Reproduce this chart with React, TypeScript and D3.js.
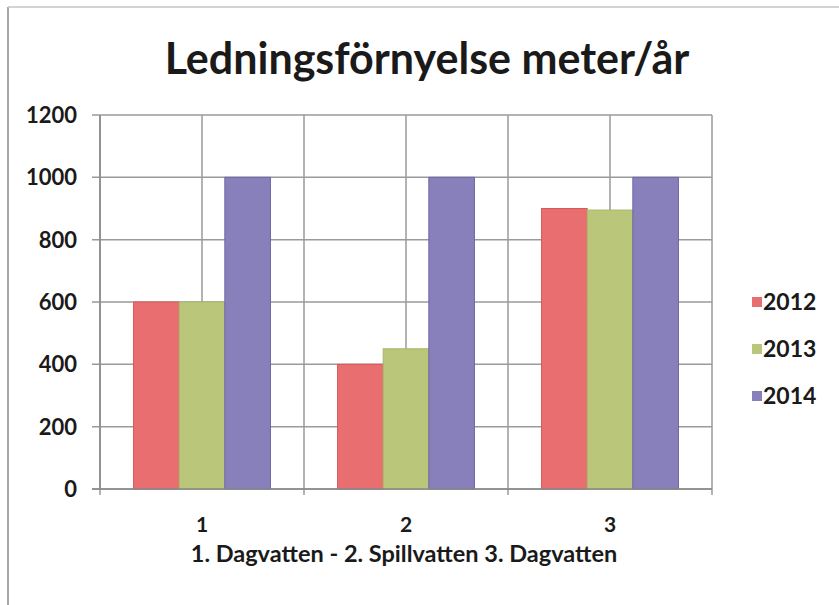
import React from "react";
import * as d3 from "d3";

// Ledningsförnyelse meter/år, grouped bars per category

const categories = ["1", "2", "3"];
const seriesNames = ["2012", "2013", "2014"];
const values2012 = [600, 400, 900];
const values2013 = [600, 450, 895];
const values2014 = [1000, 1000, 1000];
const yTicks = [0, 200, 400, 600, 800, 1000, 1200];

const colors = ["#E96E70", "#BAC67A", "#8880BB"];
const strokes = ["#D9585C", "#A9B667", "#6F68A6"];

const size = { width: 839, height: 605 };
const plot = { left: 100, right: 712, top: 115, bottom: 489 };
const font = "Lato, 'Open Sans', sans-serif";

function App() {
  const seriesValues = [values2012, values2013, values2014];

  const x = d3.scaleBand().domain(categories).range([plot.left, plot.right]).padding(0);
  const inner = d3.scaleBand().domain(seriesNames).range([0, x.bandwidth()]).paddingInner(0).paddingOuter(0.735);
  const y = d3.scaleLinear().domain([0, 1200]).range([plot.bottom, plot.top]);

  // vertical gridlines: band edges and band centres
  let vLines: number[] = [];
  categories.forEach((c) => {
    vLines.push(x(c)!);
    vLines.push(x(c)! + x.bandwidth() / 2);
  });
  vLines.push(plot.right);

  const gridColor = "#9a9a9a";

  return (
    <svg width={size.width} height={size.height}
      style={{ position: "absolute", left: 0, top: 0, background: "#fff" }}>
      {/* outer frame */}
      <line x1={8} x2={8} y1={7} y2={size.height} stroke="#8a8a8a" strokeWidth={1.5} />
      <line x1={8} x2={839} y1={7} y2={7} stroke="#c4c4c4" strokeWidth={1.5} />

      <text x={427} y={74} textAnchor="middle" fontFamily={font} fontWeight="bold"
        fontSize={43} fill="#1a1a1a">Ledningsförnyelse meter/år</text>

      {/* horizontal gridlines */}
      {yTicks.map((t) => (
        <line key={"h" + t} x1={plot.left - 8} x2={plot.right} y1={y(t)} y2={y(t)}
          stroke={gridColor} strokeWidth={1.5} />
      ))}
      {/* vertical gridlines */}
      {vLines.map((v, i) => (
        <line key={"v" + i} x1={v} x2={v} y1={plot.top} y2={plot.bottom + (i % 2 === 0 || i === vLines.length - 1 ? 6 : 0)}
          stroke={gridColor} strokeWidth={1.5} />
      ))}

      {/* bars */}
      {categories.map((c, ci) => (
        <g key={c} transform={`translate(${x(c)},0)`}>
          {seriesNames.map((s, si) => {
            const v = seriesValues[si][ci];
            return (
              <rect key={s} x={inner(s)} y={y(v)} width={inner.bandwidth()} height={y(0) - y(v)}
                fill={colors[si]} stroke={strokes[si]} strokeWidth={1} />
            );
          })}
        </g>
      ))}

      {/* axes */}
      <line x1={plot.left} x2={plot.left} y1={plot.top} y2={plot.bottom} stroke="#888" strokeWidth={1.5} />
      <line x1={plot.left - 8} x2={plot.right} y1={plot.bottom} y2={plot.bottom} stroke="#888" strokeWidth={1.5} />

      {yTicks.map((t) => (
        <text key={"yl" + t} x={77} y={y(t)} dy="0.36em" textAnchor="end" fontFamily={font}
          fontWeight="bold" fontSize={22} fill="#1a1a1a">{t}</text>
      ))}
      {categories.map((c) => (
        <text key={"xl" + c} x={x(c)! + x.bandwidth() / 2} y={532} textAnchor="middle" fontFamily={font}
          fontWeight="bold" fontSize={21} fill="#1a1a1a">{c}</text>
      ))}
      <text x={404} y={562} textAnchor="middle" fontFamily={font} fontWeight="bold" fontSize={23.5}
        fill="#1a1a1a">1. Dagvatten - 2. Spillvatten 3. Dagvatten</text>

      {/* legend */}
      {seriesNames.map((s, i) => (
        <g key={"lg" + s} transform={`translate(752,${302 + i * 47})`}>
          <rect x={0} y={-5} width={10} height={10} fill={colors[i]} />
          <text x={11} y={0} dy="0.36em" fontFamily={font} fontWeight="bold" fontSize={23}
            fill="#1a1a1a">{s}</text>
        </g>
      ))}
    </svg>
  );
}

export default App;
